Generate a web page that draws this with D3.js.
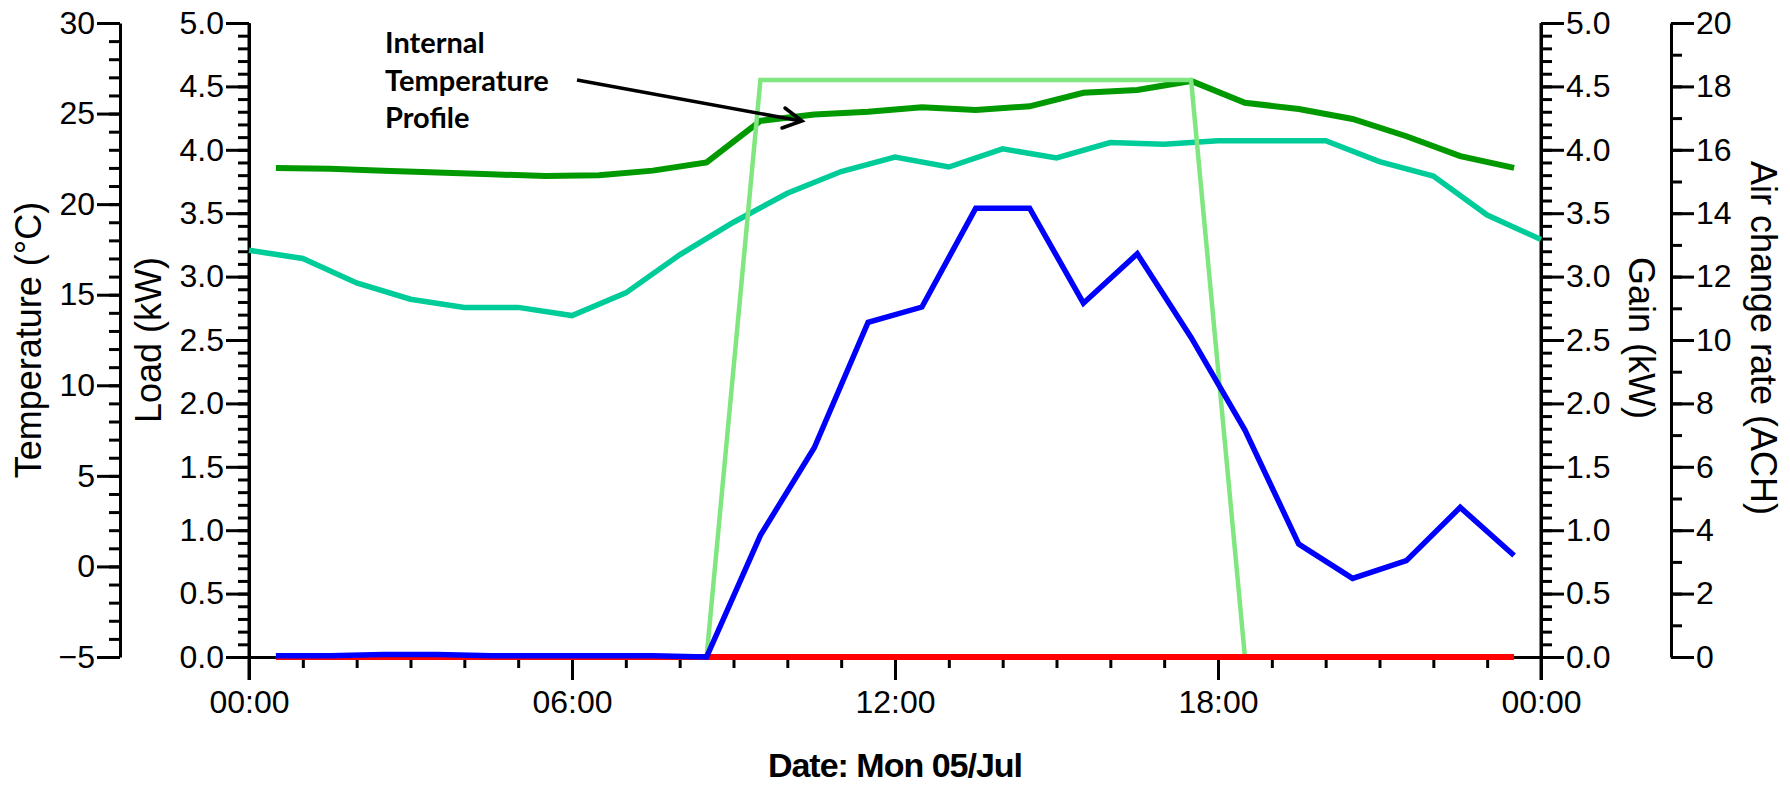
<!DOCTYPE html>
<html>
<head>
<meta charset="utf-8">
<script src="https://cdn.jsdelivr.net/npm/d3@7"></script>
<style>
  body { margin: 0; background: #fff; }
  svg { display: block; }
  .axis text { font-family: "Liberation Sans", Arial, sans-serif; font-size: 32px; fill: #000; }
  .axis path, .axis line { stroke: #000; stroke-width: 3px; }
  .title { font-family: "Liberation Sans", Arial, sans-serif; font-size: 36px; fill: #000; }
</style>
</head>
<body>
<div id="chart"></div>
<script>
// hourly outside air temperature (00:00 .. 24:00)
var hourTimes = [0, 1, 2, 3, 4, 5, 6, 7, 8, 9, 10, 11, 12, 13, 14, 15, 16, 17, 18, 19, 20, 21, 22, 23, 24];
var outsideTemp = [17.45, 17.0, 15.65, 14.75, 14.3, 14.3, 13.85, 15.1, 17.2, 19.0, 20.6, 21.8, 22.6,
                   22.05, 23.05, 22.55, 23.4, 23.3, 23.5, 23.5, 23.5, 22.35, 21.55, 19.4, 18.05];

// half-hourly series (00:30 .. 23:30)
var halfTimes = [0.5, 1.5, 2.5, 3.5, 4.5, 5.5, 6.5, 7.5, 8.5, 9.5, 10.5, 11.5,
                 12.5, 13.5, 14.5, 15.5, 16.5, 17.5, 18.5, 19.5, 20.5, 21.5, 22.5, 23.5];
var internalTemp = [22.0, 21.95, 21.85, 21.75, 21.65, 21.55, 21.6, 21.85, 22.3, 24.6, 24.95, 25.1,
                    25.35, 25.2, 25.4, 26.15, 26.3, 26.8, 25.6, 25.25, 24.7, 23.75, 22.65, 22.0];
var coolingLoad = [0.01, 0.01, 0.02, 0.02, 0.01, 0.01, 0.01, 0.01, 0.0, 0.96, 1.65, 2.64,
                   2.76, 3.54, 3.54, 2.79, 3.18, 2.52, 1.79, 0.89, 0.62, 0.76, 1.18, 0.80];
var internalGain = [0, 0, 0, 0, 0, 0, 0, 0, 0, 4.55, 4.55, 4.55,
                    4.55, 4.55, 4.55, 4.55, 4.55, 4.55, 0, 0, 0, 0, 0, 0];
var airChange = [0, 0, 0, 0, 0, 0, 0, 0, 0, 0, 0, 0,
                 0, 0, 0, 0, 0, 0, 0, 0, 0, 0, 0, 0];

var xMajor = [0, 6, 12, 18, 24];
var xLabels = ["00:00", "06:00", "12:00", "18:00", "00:00"];
var tempMajor = [-5, 0, 5, 10, 15, 20, 25, 30];
var kwMajor = [0, 0.5, 1, 1.5, 2, 2.5, 3, 3.5, 4, 4.5, 5];
var achMajor = [0, 2, 4, 6, 8, 10, 12, 14, 16, 18, 20];

var W = 1790, H = 785;
var plotL = 249, plotR = 1541, plotT = 23, plotB = 657;

var svg = d3.select("#chart").append("svg")
	.attr("width", W)
	.attr("height", H);

// scales
var x = d3.scaleLinear().domain([0, 24]).range([plotL, plotR]);
var yTemp = d3.scaleLinear().domain([-5, 30]).range([plotB, plotT]);
var yLoad = d3.scaleLinear().domain([0, 5]).range([plotB, plotT]);
var yGain = d3.scaleLinear().domain([0, 5]).range([plotB, plotT]);
var yAch = d3.scaleLinear().domain([0, 20]).range([plotB, plotT]);

function minorTicks(scale, step) {
	var d = scale.domain(), out = [];
	for (var v = d[0]; v <= d[1] + 1e-9; v += step) out.push(+v.toFixed(4));
	return out;
}

function addAxis(axisFn, scale, pos, major, minor, fmt, horiz) {
	var tr = horiz ? "translate(0," + pos + ")" : "translate(" + pos + ",0)";
	var g = svg.append("g").attr("class", "axis").attr("transform", tr);
	g.call(axisFn(scale).tickValues(minor).tickSize(11).tickSizeOuter(0).tickFormat(""));
	var g2 = svg.append("g").attr("class", "axis").attr("transform", tr);
	g2.call(axisFn(scale).tickValues(major).tickSize(23).tickSizeOuter(0).tickPadding(horiz ? 10 : 2).tickFormat(fmt));
	g2.select(".domain").remove();
	g.attr("font-size", null).attr("font-family", null);
	g2.attr("font-size", null).attr("font-family", null);
	return g2;
}

addAxis(d3.axisLeft, yTemp, 120, tempMajor, minorTicks(yTemp, 1), d3.format("d"));
addAxis(d3.axisLeft, yLoad, plotL, kwMajor, minorTicks(yLoad, 0.1), d3.format(".1f"));
addAxis(d3.axisRight, yGain, plotR, kwMajor, minorTicks(yGain, 0.1), d3.format(".1f"));
addAxis(d3.axisRight, yAch, 1671, achMajor, minorTicks(yAch, 1), d3.format("d"));

// x axis
addAxis(d3.axisBottom, x, plotB, xMajor, minorTicks(x, 1), function (d, i) { return xLabels[i]; }, true);

// load and gain axis lines run down to the x tick length
[plotL, plotR].forEach(function (px) {
	svg.append("line").attr("x1", px).attr("x2", px).attr("y1", plotT).attr("y2", plotB + 23)
		.attr("stroke", "#000").attr("stroke-width", 3);
});

// axis titles
function vTitle(txt, tx, ty, rot) {
	svg.append("text").attr("class", "title")
		.attr("transform", "translate(" + tx + "," + ty + ") rotate(" + rot + ")")
		.attr("text-anchor", "middle")
		.text(txt);
}
vTitle("Temperature (°C)", 41, 340, -90);
vTitle("Load (kW)", 161, 340, -90);
vTitle("Gain (kW)", 1629, 338, 90);
vTitle("Air change rate (ACH)", 1751, 338, 90);

svg.append("text")
	.attr("x", x(12)).attr("y", 777)
	.attr("text-anchor", "middle")
	.style("font-family", "'Liberation Sans', Arial, sans-serif")
	.style("font-size", "34px").style("font-weight", "bold").style("letter-spacing", "-1px")
	.text("Date: Mon 05/Jul");

// series
function drawLine(xs, ys, yScale, color, width) {
	var line = d3.line()
		.x(function (d, i) { return x(xs[i]); })
		.y(function (d) { return yScale(d); });
	svg.append("path")
		.datum(ys)
		.attr("fill", "none")
		.attr("stroke", color)
		.attr("stroke-width", width)
		.attr("stroke-linejoin", "miter")
		.attr("d", line);
}

drawLine(hourTimes, outsideTemp, yTemp, "#00cc99", 5.5);
drawLine(halfTimes, internalTemp, yTemp, "#009900", 6);
drawLine(halfTimes, internalGain, yGain, "#80e680", 4.5);
drawLine(halfTimes, airChange, yAch, "#ff0000", 6);
drawLine(halfTimes, coolingLoad, yLoad, "#0000ff", 5.5);

// annotation
var ann = svg.append("text")
	.style("font-family", "Lato, 'Open Sans', sans-serif")
	.style("font-size", "29px").style("font-weight", "bold");
["Internal", "Temperature", "Profile"].forEach(function (t, i) {
	ann.append("tspan").attr("x", 385).attr("y", 53 + i * 37.5).text(t);
});

svg.append("line").attr("x1", 577).attr("y1", 80).attr("x2", 801).attr("y2", 121)
	.attr("stroke", "#000").attr("stroke-width", 3.5);
svg.append("path").attr("d", "M785,108 L802,121 L782,128")
	.attr("fill", "none").attr("stroke", "#000").attr("stroke-width", 3.5)
	.attr("stroke-linecap", "round").attr("stroke-linejoin", "miter");
</script>
</body>
</html>
